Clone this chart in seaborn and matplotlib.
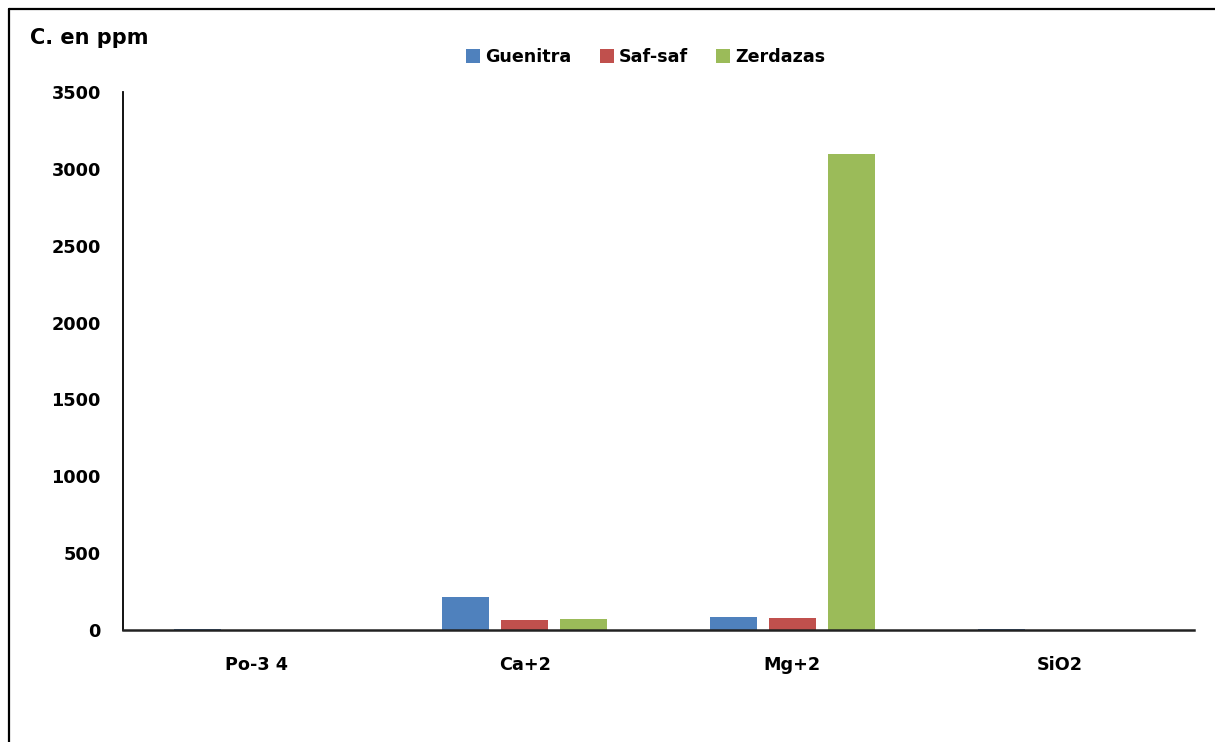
import matplotlib
matplotlib.use("Agg")
import matplotlib.pyplot as plt
from matplotlib.lines import Line2D
from matplotlib.patches import Patch
import seaborn as sns
import pandas as pd

# Concentrations (ppm) per element and station
categories = ["Po-3 4", "Ca+2", "Mg+2", "SiO2"]
stations = ["Guenitra", "Saf-saf", "Zerdazas"]
guenitra = [4, 216, 84, 5]
saf_saf = [0.5, 67, 79, 1]
zerdazas = [0.5, 71, 3097, 1]
colors = ["#4F81BD", "#C0504D", "#9BBB59"]
y_ticks = [0, 500, 1000, 1500, 2000, 2500, 3000, 3500]

df = pd.DataFrame({
    "element": categories * 3,
    "station": [s for s in stations for _ in categories],
    "ppm": guenitra + saf_saf + zerdazas,
})

sns.set_style("white")
plt.rcParams["font.family"] = ["DejaVu Sans"]
plt.rcParams["font.weight"] = "bold"
plt.rcParams["text.color"] = "black"

fig = plt.figure(figsize=(12.15, 7.42), dpi=100)
ax = fig.add_axes([0.1012, 0.1509, 0.8815, 0.7251])

sns.barplot(data=df, x="element", y="ppm", hue="station", order=categories,
            hue_order=stations, palette=colors, saturation=1, width=0.66,
            gap=0.2, linewidth=0, legend=False, ax=ax)

ax.set_ylim(0, 3500)
ax.set_yticks(y_ticks)
ax.set_yticklabels([str(v) for v in y_ticks])
ax.set_xlim(-0.5, 3.5)
ax.set_xlabel("")
ax.set_ylabel("")
ax.tick_params(axis="y", length=0, pad=16, labelsize=12.7)
ax.tick_params(axis="x", length=0, pad=19, labelsize=12.7)
for lab in ax.get_xticklabels() + ax.get_yticklabels():
    lab.set_fontweight("bold")
    lab.set_color("black")

for side in ["top", "right"]:
    ax.spines[side].set_visible(False)
ax.spines["left"].set_color("black")
ax.spines["left"].set_linewidth(1.3)
ax.spines["bottom"].set_color("#222222")
ax.spines["bottom"].set_linewidth(1.8)
ax.grid(False)

# Unit title
fig.text(30 / 1215, 1 - 38 / 742, "C. en ppm", fontsize=15, fontweight="bold",
         ha="left", va="center", color="black")

# Legend across the top
handles = [Patch(facecolor=c, edgecolor="none") for c in colors]
fig.legend(handles, stations, loc="center", bbox_to_anchor=(646 / 1215, 1 - 57 / 742),
           ncol=3, frameon=False, handlelength=0.8, handleheight=0.8,
           handletextpad=0.3, columnspacing=1.6, labelcolor="black",
           prop={"size": 12.6, "weight": "bold"})

# Outer frame of the chart area
fig.add_artist(Line2D([8.5 / 1215, 8.5 / 1215], [0, 1 - 9 / 742],
                      transform=fig.transFigure, color="black", linewidth=1.6))
fig.add_artist(Line2D([8.5 / 1215, 1], [1 - 9 / 742, 1 - 9 / 742],
                      transform=fig.transFigure, color="black", linewidth=1.6))

fig.savefig("out.png", dpi=100, facecolor="white")
